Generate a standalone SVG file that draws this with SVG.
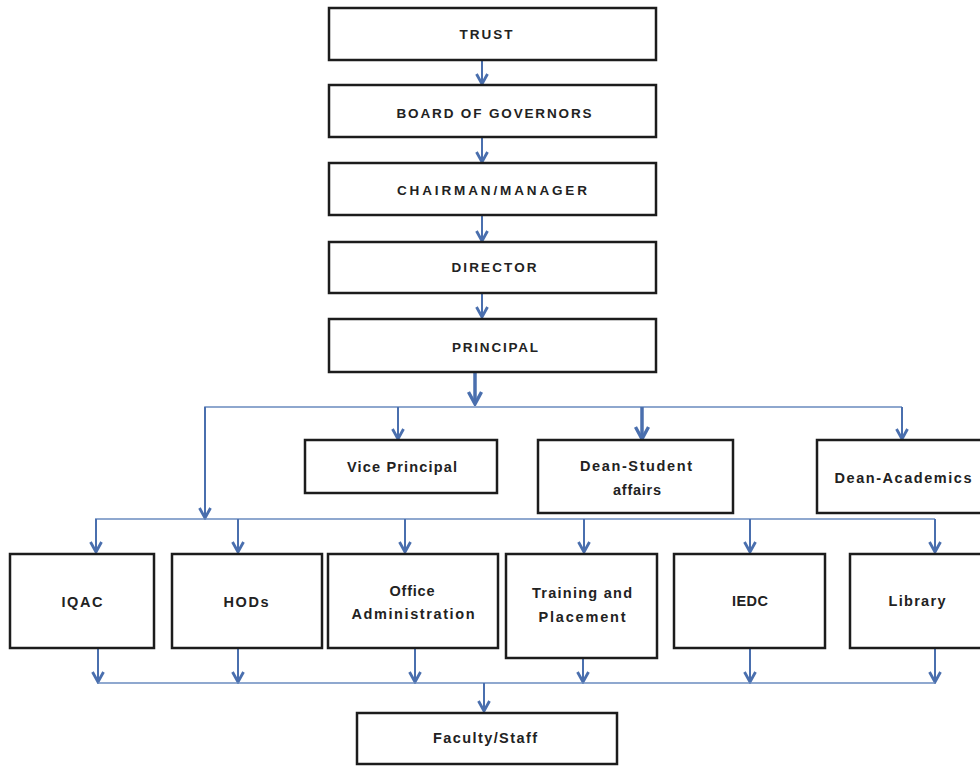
<svg xmlns="http://www.w3.org/2000/svg" width="980" height="767" viewBox="0 0 980 767">
<style>
.box{fill:#fff;stroke:#1c1c1c;stroke-width:2.5}
.t{font-family:"Liberation Sans",Arial,sans-serif;font-weight:bold;fill:#222;text-anchor:middle;dominant-baseline:central}
.top{font-size:13.5px}
.low{font-size:14.5px}
.ar{fill:none;stroke:#4a6fae;stroke-width:2;marker-end:url(#ah)}
.arw{fill:none;stroke:#4a6fae;stroke-width:3.5;marker-end:url(#ahw)}
.bus{fill:none;stroke:#6a8bbf;stroke-width:1.6}
</style>
<defs>
<marker id="ah" viewBox="0 0 14 14" refX="12" refY="7" markerWidth="14" markerHeight="14" markerUnits="userSpaceOnUse" orient="auto">
<path d="M2,1.5 L12,7 L2,12.5" fill="none" stroke="#4a6fae" stroke-width="2.8"/>
</marker>
<marker id="ahw" viewBox="0 0 16 16" refX="14" refY="8" markerWidth="16" markerHeight="16" markerUnits="userSpaceOnUse" orient="auto">
<path d="M2,1.5 L14,8 L2,14.5" fill="none" stroke="#4a6fae" stroke-width="3.4"/>
</marker>
</defs>
<rect width="980" height="767" fill="#fff"/>
<g id="connectors">
<line class="ar" x1="482" y1="61" x2="482" y2="84"/>
<line class="ar" x1="482" y1="138" x2="482" y2="162"/>
<line class="ar" x1="482" y1="216" x2="482" y2="241"/>
<line class="ar" x1="482" y1="294" x2="482" y2="317"/>
<line class="arw" x1="475" y1="373" x2="475" y2="404"/>
<polyline class="bus" points="205,519 205,407 902,407"/>
<line class="ar" x1="205" y1="407" x2="205" y2="518"/>
<line class="ar" x1="398" y1="407" x2="398" y2="439"/>
<line class="arw" x1="642" y1="407" x2="642" y2="439"/>
<line class="ar" x1="902" y1="407" x2="902" y2="439"/>
<line class="bus" x1="95" y1="519" x2="935" y2="519"/>
<line class="ar" x1="96" y1="519" x2="96" y2="552"/>
<line class="ar" x1="238" y1="519" x2="238" y2="552"/>
<line class="ar" x1="405" y1="519" x2="405" y2="552"/>
<line class="ar" x1="584" y1="519" x2="584" y2="552"/>
<line class="ar" x1="750" y1="519" x2="750" y2="552"/>
<line class="ar" x1="935" y1="519" x2="935" y2="552"/>
<line class="ar" x1="98" y1="649" x2="98" y2="682"/>
<line class="ar" x1="238" y1="649" x2="238" y2="682"/>
<line class="ar" x1="415" y1="649" x2="415" y2="682"/>
<line class="ar" x1="583" y1="648" x2="583" y2="682"/>
<line class="ar" x1="750" y1="649" x2="750" y2="682"/>
<line class="ar" x1="935" y1="649" x2="935" y2="682"/>
<line class="bus" x1="98" y1="683" x2="935" y2="683"/>
<line class="ar" x1="484" y1="683" x2="484" y2="711"/>
</g>
<g id="trust"><rect class="box" x="329" y="8" width="327" height="52"/><text class="t top" x="486" y="34" textLength="53" lengthAdjust="spacing">TRUST</text></g>
<g id="board"><rect class="box" x="329" y="85" width="327" height="52"/><text class="t top" x="494" y="113" textLength="195" lengthAdjust="spacing">BOARD OF GOVERNORS</text></g>
<g id="chairman"><rect class="box" x="329" y="163" width="327" height="52"/><text class="t top" x="492" y="190" textLength="190" lengthAdjust="spacing">CHAIRMAN/MANAGER</text></g>
<g id="director"><rect class="box" x="329" y="242" width="327" height="51"/><text class="t top" x="494" y="267" textLength="85" lengthAdjust="spacing">DIRECTOR</text></g>
<g id="principal"><rect class="box" x="329" y="319" width="327" height="53"/><text class="t top" x="495" y="347" textLength="86" lengthAdjust="spacing">PRINCIPAL</text></g>
<g id="vice-principal"><rect class="box" x="305" y="440" width="192" height="53"/><text class="t low" x="402" y="467" textLength="110" lengthAdjust="spacing">Vice Principal</text></g>
<g id="dean-student"><rect class="box" x="538" y="440" width="195" height="73"/><text class="t low" x="636" y="466" textLength="112" lengthAdjust="spacing">Dean-Student</text><text class="t low" x="637" y="490" textLength="48" lengthAdjust="spacing">affairs</text></g>
<g id="dean-academics"><rect class="box" x="817" y="440" width="172" height="73"/><text class="t low" x="903" y="478" textLength="137" lengthAdjust="spacing">Dean-Academics</text></g>
<g id="iqac"><rect class="box" x="10" y="554" width="144" height="94"/><text class="t low" x="82" y="602" textLength="41" lengthAdjust="spacing">IQAC</text></g>
<g id="hods"><rect class="box" x="172" y="554" width="150" height="94"/><text class="t low" x="246" y="602" textLength="45" lengthAdjust="spacing">HODs</text></g>
<g id="office"><rect class="box" x="328" y="554" width="170" height="94"/><text class="t low" x="412" y="591" textLength="45" lengthAdjust="spacing">Office</text><text class="t low" x="413" y="614" textLength="123" lengthAdjust="spacing">Administration</text></g>
<g id="training"><rect class="box" x="506" y="554" width="151" height="104"/><text class="t low" x="582" y="593" textLength="100" lengthAdjust="spacing">Training and</text><text class="t low" x="582" y="617" textLength="87" lengthAdjust="spacing">Placement</text></g>
<g id="iedc"><rect class="box" x="674" y="554" width="151" height="94"/><text class="t low" x="750" y="601" textLength="36" lengthAdjust="spacing">IEDC</text></g>
<g id="library"><rect class="box" x="850" y="554" width="135" height="94"/><text class="t low" x="917" y="601" textLength="57" lengthAdjust="spacing">Library</text></g>
<g id="faculty"><rect class="box" x="357" y="713" width="260" height="51"/><text class="t low" x="485" y="738" textLength="104" lengthAdjust="spacing">Faculty/Staff</text></g>
</svg>
